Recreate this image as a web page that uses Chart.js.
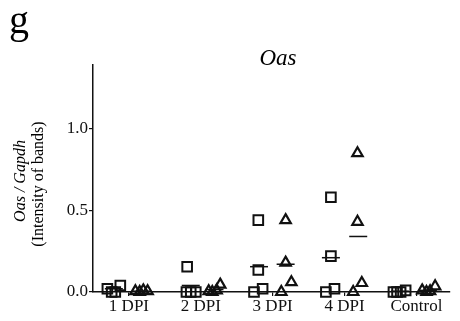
<!DOCTYPE html>
<html>
<head>
<meta charset="utf-8">
<script src="https://cdn.jsdelivr.net/npm/chart.js@4"></script>
<style>
  body { margin: 0; background: #fff; }
  canvas { display: block; }
</style>
</head>
<body>
<canvas id="oas-chart" width="460" height="321"></canvas>
<script>
const categories = ["1 DPI", "2 DPI", "3 DPI", "4 DPI", "Control"];
const yTickValues = [0, 0.5, 1.0];

// square group (first series), values per category and horizontal jitter
const squareValues = [
    [0.02, 0.0, 0.0, 0.04],
    [0.0, 0.0, 0.0, 0.155],
    [0.44, 0.135, 0.0, 0.02],
    [0.58, 0.22, 0.0, 0.02],
    [0.0, 0.0, 0.0, 0.01],
];
const squareJitter = [
    [-0.30, -0.24, -0.19, -0.12],
    [-0.20, -0.14, -0.07, -0.19],
    [-0.20, -0.20, -0.26, -0.14],
    [-0.19, -0.19, -0.26, -0.14],
    [-0.32, -0.27, -0.22, -0.15],
];
const squareMeans = [0.02, 0.04, 0.155, 0.21, 0.005];
const squareMeanX = [-0.21, -0.14, -0.19, -0.19, -0.23];

// triangle group (second series)
const triangleValues = [
    [0.005, 0.0, 0.01, 0.005],
    [0.005, 0.0, 0.01, 0.045],
    [0.44, 0.18, 0.06, 0.0],
    [0.85, 0.43, 0.055, 0.0],
    [0.01, 0.0, 0.005, 0.035],
];
const triangleJitter = [
    [0.09, 0.15, 0.20, 0.26],
    [0.11, 0.16, 0.22, 0.27],
    [0.18, 0.18, 0.26, 0.12],
    [0.18, 0.18, 0.24, 0.12],
    [0.08, 0.14, 0.19, 0.26],
];
const triangleMeans = [0.005, 0.015, 0.17, 0.34, 0.01];
const triangleMeanX = [0.18, 0.19, 0.18, 0.19, 0.16];

const serif = "'Liberation Serif', 'Times New Roman', serif";

function toPoints(values, jitter) {
    const pts = [];
    values.forEach((group, i) => {
        group.forEach((v, j) => pts.push({ x: i + jitter[i][j], y: v }));
    });
    return pts;
}

function toMeanPoints(means, offsets) {
    return means.map((m, i) => ({ x: i + offsets[i], y: m }));
}

const textPlugin = {
    id: "figureText",
    afterDraw(chart) {
        const ctx = chart.ctx;
        ctx.save();
        ctx.fillStyle = "#000";
        ctx.textAlign = "left";
        ctx.textBaseline = "alphabetic";
        ctx.font = "40px " + serif;
        ctx.fillText("g", 9, 33);

        ctx.textAlign = "center";
        ctx.font = "italic 23px " + serif;
        ctx.fillText("Oas", 278, 65);

        // y axis title, two rotated lines
        ctx.translate(0, 0);
        ctx.save();
        ctx.translate(25, 181);
        ctx.rotate(-Math.PI / 2);
        ctx.font = "italic 16px " + serif;
        ctx.textAlign = "center";
        ctx.fillText("Oas / Gapdh", 0, 0);
        ctx.restore();
        ctx.save();
        ctx.translate(43, 184);
        ctx.rotate(-Math.PI / 2);
        ctx.font = "16px " + serif;
        ctx.textAlign = "center";
        ctx.fillText("(Intensity of bands)", 0, 0);
        ctx.restore();
        ctx.restore();
    },
};

const oasContext = document.getElementById("oas-chart");

const oasData = {
    datasets: [
        {
            label: "Squares",
            data: toPoints(squareValues, squareJitter),
            pointStyle: "rect",
            pointRadius: 6.8,
            borderColor: "#111",
            backgroundColor: "rgba(0,0,0,0)",
            pointBorderWidth: 2,
            clip: false,
        },
        {
            label: "Triangles",
            data: toPoints(triangleValues, triangleJitter),
            pointStyle: "triangle",
            pointRadius: 6,
            borderColor: "#111",
            backgroundColor: "rgba(0,0,0,0)",
            pointBorderWidth: 2.2,
            clip: false,
        },
        {
            label: "Square mean",
            data: toMeanPoints(squareMeans, squareMeanX),
            pointStyle: "line",
            pointRadius: 9,
            borderColor: "#111",
            pointBorderWidth: 1.5,
            clip: false,
        },
        {
            label: "Triangle mean",
            data: toMeanPoints(triangleMeans, triangleMeanX),
            pointStyle: "line",
            pointRadius: 9,
            borderColor: "#111",
            pointBorderWidth: 1.5,
            clip: false,
        },
    ],
};

const oasConfig = {
    type: "scatter",
    data: oasData,
    plugins: [textPlugin],
    options: {
        responsive: false,
        animation: false,
        layout: { padding: { top: 65, right: 0, left: 0, bottom: 0 } },
        plugins: {
            legend: { display: false },
            tooltip: { enabled: false },
        },
        scales: {
            x: {
                type: "linear",
                min: -0.5,
                max: 4.46,
                afterBuildTicks(scale) {
                    scale.ticks = categories.map((c, i) => ({ value: i }));
                },
                afterFit(scale) {
                    scale.height = 29;
                },
                ticks: {
                    autoSkip: false,
                    maxRotation: 0,
                    padding: 0,
                    color: "#111",
                    font: { family: serif, size: 17 },
                    callback: (v) => categories[v],
                },
                grid: {
                    display: true,
                    drawOnChartArea: false,
                    drawTicks: true,
                    tickLength: 4,
                    color: "#111",
                    lineWidth: 1.2,
                },
                border: { display: true, color: "#111", width: 1.5 },
            },
            y: {
                min: 0,
                max: 1.39,
                afterBuildTicks(scale) {
                    scale.ticks = yTickValues.map((v) => ({ value: v }));
                },
                afterFit(scale) {
                    scale.width = 93;
                },
                ticks: {
                    padding: 1,
                    color: "#111",
                    font: { family: serif, size: 17 },
                    callback: (v) => v.toFixed(1),
                },
                grid: {
                    display: true,
                    drawOnChartArea: false,
                    drawTicks: true,
                    tickLength: 4,
                    color: "#111",
                    lineWidth: 1.2,
                },
                border: { display: true, color: "#111", width: 1.5 },
            },
        },
    },
};

const oasChart = new Chart(oasContext, oasConfig);
</script>
</body>
</html>
